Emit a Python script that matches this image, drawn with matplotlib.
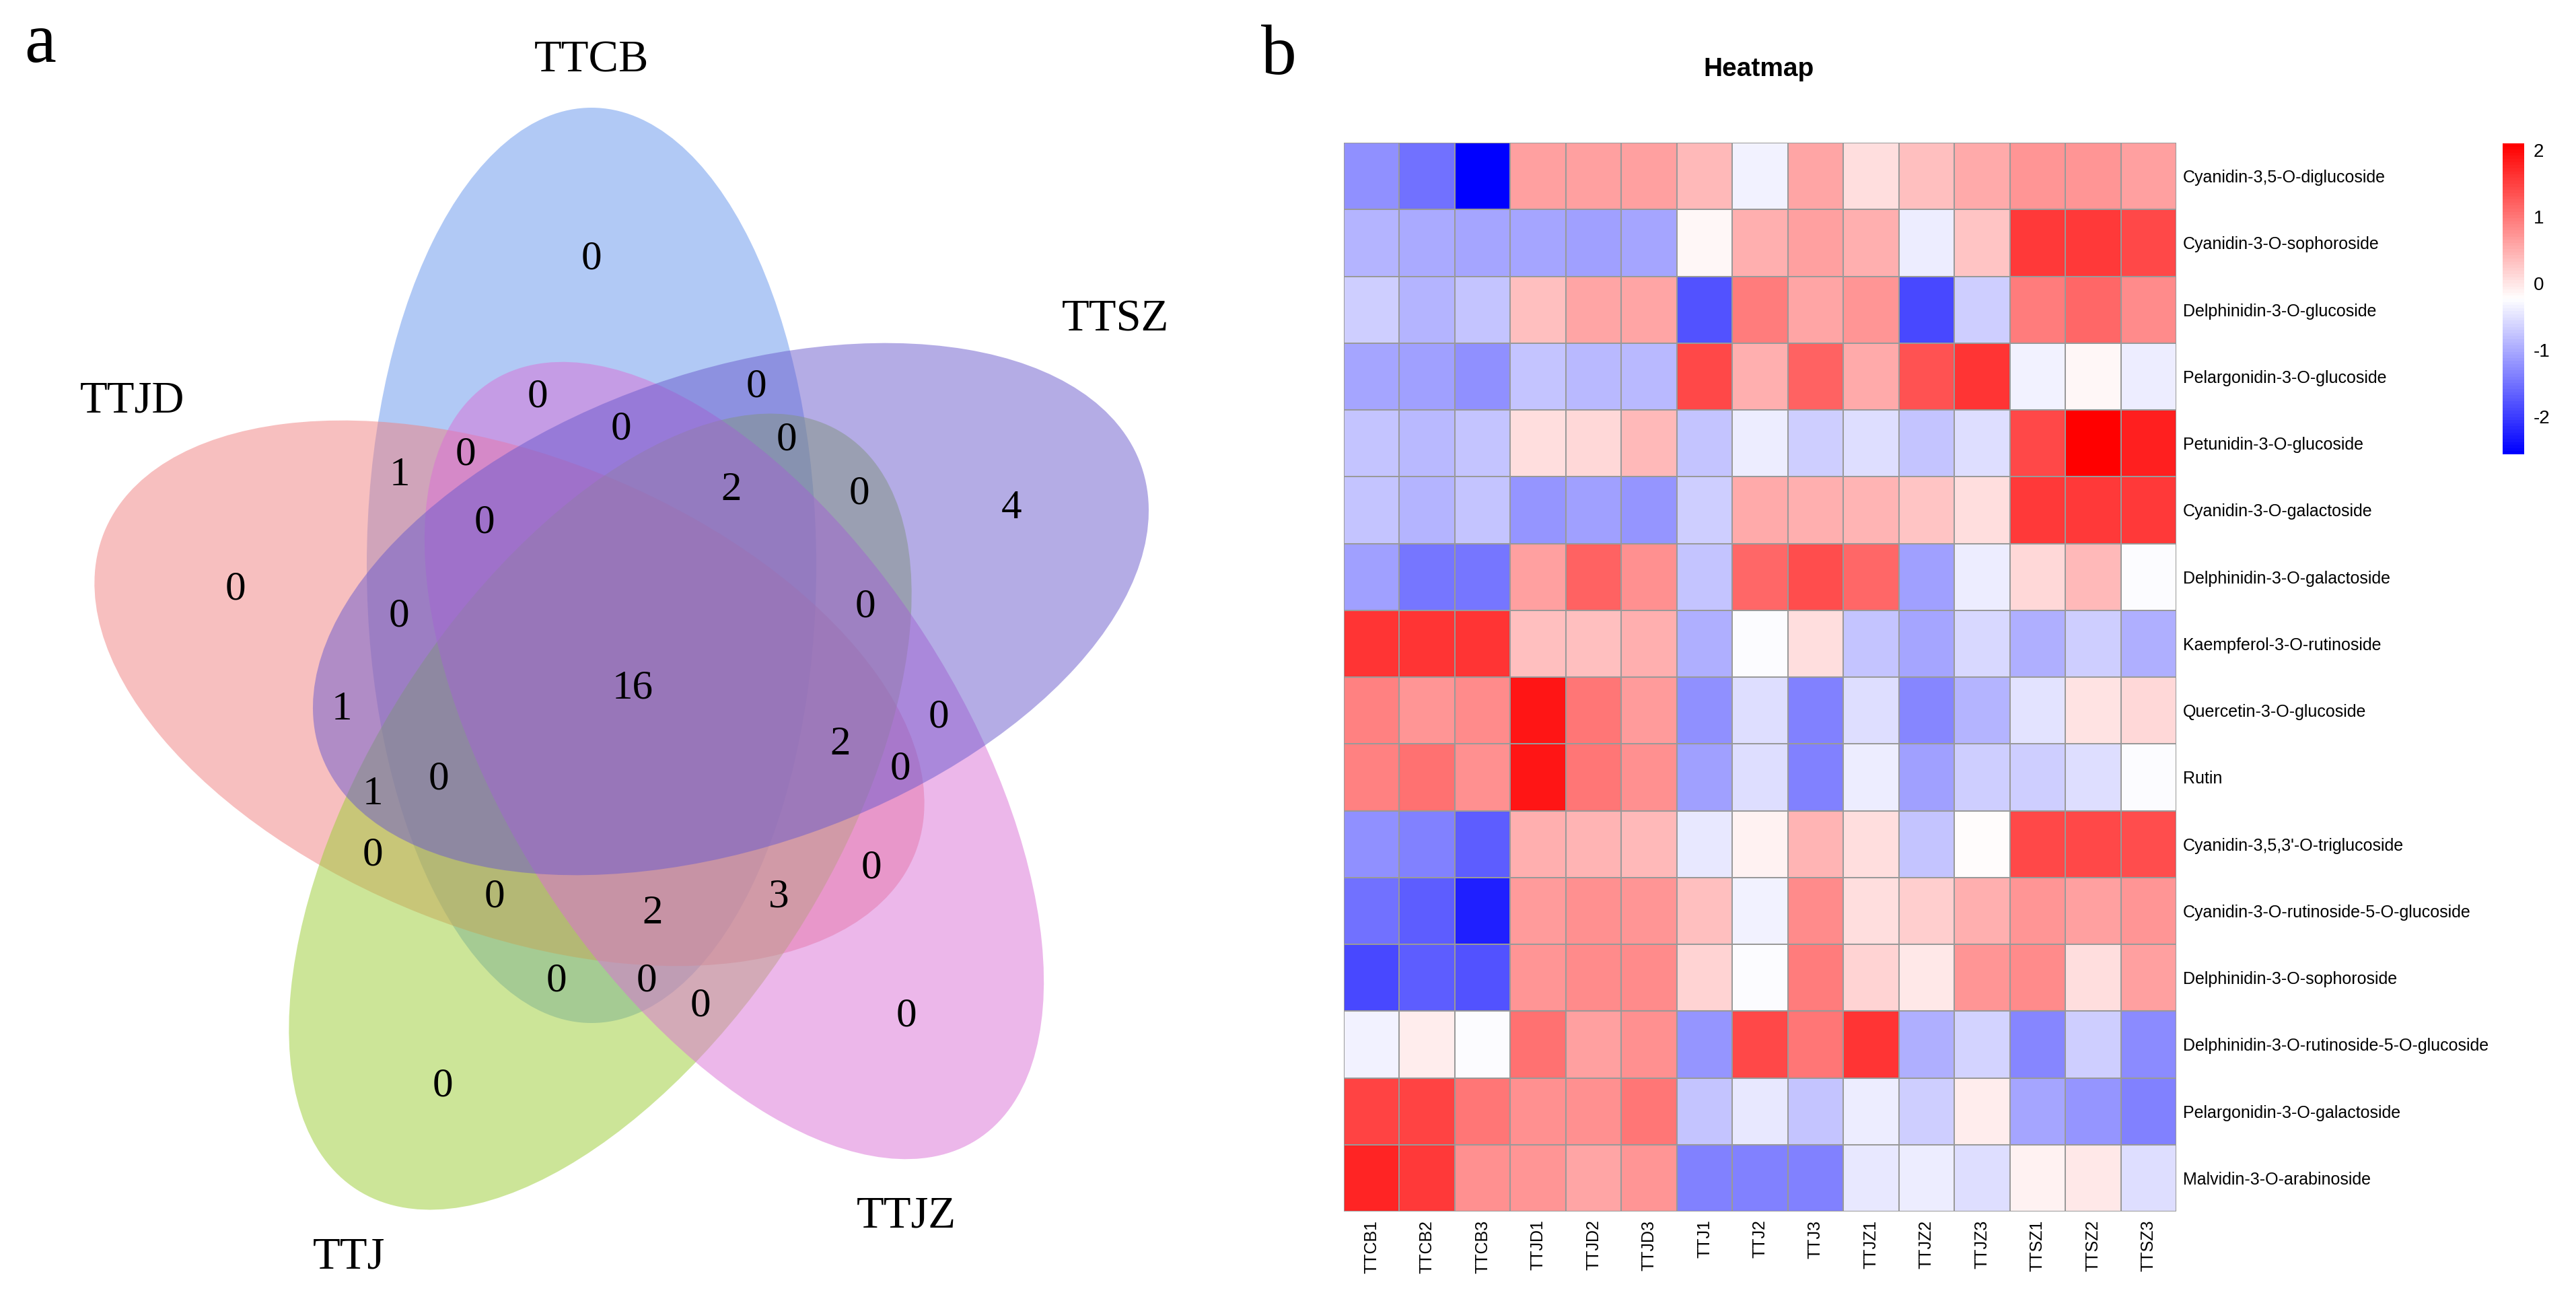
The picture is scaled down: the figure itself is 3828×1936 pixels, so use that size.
import numpy as np
import matplotlib
matplotlib.use("Agg")
import matplotlib.pyplot as plt
from matplotlib.patches import Ellipse
from matplotlib.colors import LinearSegmentedColormap, Normalize
from matplotlib.cm import ScalarMappable

plt.rcParams["axes.unicode_minus"] = False

W, H, DPI = 3828, 1936, 100

# ---- panel a: five-set Venn data ----
set_names = ["TTCB", "TTJD", "TTJ", "TTJZ", "TTSZ"]
set_colors = ["cornflowerblue", "lightcoral", "yellowgreen", "orchid", "slateblue"]
region_counts = [0, 0, 0, 0, 1, 0, 0, 0, 1, 16,
                 0, 0, 2, 0, 4, 0, 1, 0, 0, 0,
                 0, 0, 2, 0, 0, 0, 3, 2, 0, 0, 0]

# layout of the Venn (pixel coordinates of the panel)
ell_center = [(879, 840), (757, 1030), (892, 1206), (1091, 1130), (1086, 905)]
ell_axes = [(680, 334), (648, 353), (668, 343), (669, 339), (646, 353)]
ell_angle = [90, 21.5, -57.2, 57.35, -19.2]
name_xy = [(879, 90), (196, 596), (519, 1868), (1347, 1807), (1657, 475)]
count_xy = [(879, 385), (799, 590), (923, 638), (692, 676), (594, 706),
            (720, 777), (350, 876), (593, 916), (508, 1054), (940, 1023),
            (1124, 575), (1169, 654), (1087, 728), (1277, 734), (1503, 755),
            (1286, 902), (554, 1180), (652, 1158), (554, 1271), (735, 1333),
            (827, 1458), (658, 1614), (1249, 1106), (1395, 1066), (1338, 1143),
            (1295, 1290), (1157, 1333), (970, 1357), (961, 1458), (1041, 1495),
            (1347, 1510)]

# ---- panel b: heatmap data ----
samples = ["TTCB1", "TTCB2", "TTCB3", "TTJD1", "TTJD2", "TTJD3", "TTJ1", "TTJ2",
           "TTJ3", "TTJZ1", "TTJZ2", "TTJZ3", "TTSZ1", "TTSZ2", "TTSZ3"]
compounds = ["Cyanidin-3,5-O-diglucoside", "Cyanidin-3-O-sophoroside",
             "Delphinidin-3-O-glucoside", "Pelargonidin-3-O-glucoside",
             "Petunidin-3-O-glucoside", "Cyanidin-3-O-galactoside",
             "Delphinidin-3-O-galactoside", "Kaempferol-3-O-rutinoside",
             "Quercetin-3-O-glucoside", "Rutin",
             "Cyanidin-3,5,3'-O-triglucoside", "Cyanidin-3-O-rutinoside-5-O-glucoside",
             "Delphinidin-3-O-sophoroside", "Delphinidin-3-O-rutinoside-5-O-glucoside",
             "Pelargonidin-3-O-galactoside", "Malvidin-3-O-arabinoside"]
zscores = [
    [-1.26, -1.54, -2.57, 0.65, 0.65, 0.65, 0.40, -0.33, 0.56, 0.05, 0.35, 0.54, 0.70, 0.70, 0.63],
    [-0.93, -1.01, -1.03, -1.03, -1.10, -1.03, -0.16, 0.47, 0.61, 0.47, -0.38, 0.30, 1.54, 1.54, 1.44],
    [-0.70, -0.91, -0.77, 0.37, 0.58, 0.56, -1.80, 0.95, 0.58, 0.70, -1.91, -0.70, 0.96, 1.12, 0.82],
    [-1.03, -1.10, -1.26, -0.77, -0.85, -0.85, 1.44, 0.47, 1.19, 0.54, 1.33, 1.63, -0.33, -0.16, -0.39],
    [-0.79, -0.87, -0.79, 0.07, 0.12, 0.40, -0.75, -0.38, -0.70, -0.52, -0.77, -0.54, 1.44, 2.10, 1.79],
    [-0.75, -0.93, -0.77, -1.17, -1.10, -1.17, -0.66, 0.54, 0.47, 0.45, 0.28, 0.09, 1.54, 1.54, 1.54],
    [-1.10, -1.49, -1.49, 0.61, 1.17, 0.77, -0.75, 1.14, 1.37, 1.12, -1.10, -0.39, 0.12, 0.40, -0.28],
    [1.63, 1.63, 1.63, 0.37, 0.37, 0.47, -0.98, -0.28, 0.07, -0.77, -1.07, -0.58, -0.98, -0.66, -0.98],
    [0.89, 0.70, 0.82, 1.91, 0.98, 0.67, -1.26, -0.52, -1.40, -0.52, -1.35, -0.89, -0.47, 0.00, 0.12],
    [0.89, 1.07, 0.77, 1.91, 1.02, 0.77, -1.12, -0.54, -1.40, -0.42, -1.10, -0.66, -0.70, -0.54, -0.28],
    [-1.26, -1.40, -1.70, 0.47, 0.42, 0.40, -0.45, -0.12, 0.45, 0.05, -0.75, -0.21, 1.40, 1.44, 1.37],
    [-1.54, -1.72, -2.27, 0.68, 0.75, 0.70, 0.35, -0.33, 0.80, 0.05, 0.23, 0.47, 0.70, 0.61, 0.70],
    [-1.91, -1.72, -1.80, 0.70, 0.82, 0.82, 0.16, -0.28, 0.95, 0.16, -0.02, 0.70, 0.82, 0.05, 0.63],
    [-0.33, -0.09, -0.28, 1.07, 0.63, 0.75, -1.17, 1.40, 1.02, 1.63, -0.98, -0.64, -1.33, -0.70, -1.28],
    [1.47, 1.47, 1.02, 0.77, 0.75, 0.99, -0.77, -0.45, -0.77, -0.42, -0.70, -0.07, -1.07, -1.17, -1.40],
    [1.75, 1.54, 0.77, 0.70, 0.56, 0.70, -1.40, -1.40, -1.40, -0.45, -0.39, -0.52, -0.14, -0.04, -0.52],
]
cbar_ticks = [-2, -1, 0, 1, 2]

serif = "Liberation Serif"
sans = "Liberation Sans"

fig = plt.figure(figsize=(W / DPI, H / DPI), dpi=DPI)
fig.patch.set_facecolor("white")

# ---- Venn panel ----
ax = fig.add_axes([0, 0, 1900 / W, 1])
ax.set_xlim(0, 1900)
ax.set_ylim(H, 0)
ax.axis("off")

for (cx, cy), (a, b), ang, col in zip(ell_center, ell_axes, ell_angle, set_colors):
    ax.add_patch(Ellipse((cx, cy), 2 * a, 2 * b, angle=ang,
                         facecolor=col, edgecolor="none", alpha=0.5))

for (x, y), n in zip(count_xy, region_counts):
    ax.text(x, y, str(n), ha="center", va="center", fontsize=44, family=serif)

for (x, y), name in zip(name_xy, set_names):
    ax.text(x, y, name, ha="center", va="center", fontsize=48, family=serif)

fig.text(60 / W, 1 - 92 / H, "a", ha="center", va="baseline", fontsize=76, family=serif)
fig.text(1900 / W, 1 - 110 / H, "b", ha="center", va="baseline", fontsize=76, family=serif)

# ---- heatmap panel ----
vals = np.array(zscores)
cmap = LinearSegmentedColormap.from_list("bwr_ph", ["blue", "white", "red"], N=100)
norm = Normalize(vmin=vals.min(), vmax=vals.max())

gl, gr, gt, gb = 1997, 3234, 212, 1800
hx = fig.add_axes([gl / W, 1 - gb / H, (gr - gl) / W, (gb - gt) / H])
hx.pcolormesh(vals, cmap=cmap, norm=norm, edgecolors="#999999", linewidth=1.3)
hx.set_xlim(0, len(samples))
hx.set_ylim(len(compounds), 0)
for s in hx.spines.values():
    s.set_visible(False)
hx.set_xticks(np.arange(len(samples)) + 0.5)
hx.set_xticklabels(samples, rotation=90, fontsize=18, family=sans)
hx.yaxis.tick_right()
hx.set_yticks(np.arange(len(compounds)) + 0.5)
hx.set_yticklabels(compounds, fontsize=18, family=sans)
hx.tick_params(axis="x", length=0, pad=9)
hx.tick_params(axis="y", length=0, pad=7)

fig.text(2613 / W, 1 - 103 / H, "Heatmap", ha="center", va="center",
         fontsize=28, fontweight="bold", family=sans)

cax = fig.add_axes([3719 / W, 1 - 675 / H, 32 / W, (675 - 213) / H])
cb = fig.colorbar(ScalarMappable(norm=norm, cmap=cmap), cax=cax, ticks=cbar_ticks)
cb.outline.set_visible(False)
cax.tick_params(length=0, labelsize=20, pad=10)
for t in cax.get_yticklabels():
    t.set_family(sans)

fig.savefig("out.png", dpi=DPI, facecolor="white")
